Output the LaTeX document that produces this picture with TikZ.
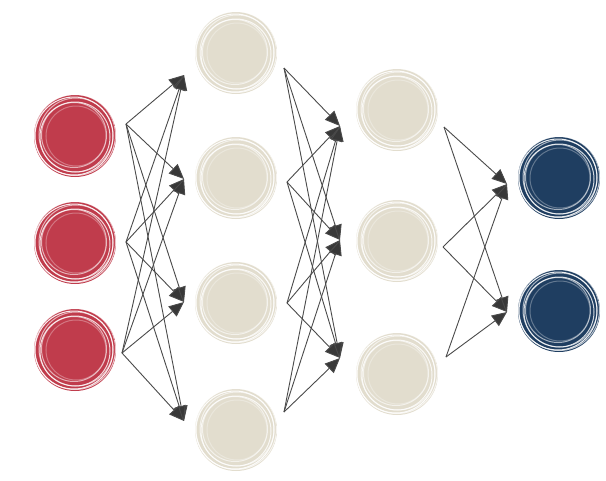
\documentclass[tikz,border=0pt]{standalone}
\usetikzlibrary{arrows.meta}
\definecolor{inred}{HTML}{C03C4C}
\definecolor{hidbeige}{HTML}{E2DDCE}
\definecolor{outblue}{HTML}{1F3E61}
\definecolor{wire}{HTML}{4A4A4A}
\begin{document}
\begin{tikzpicture}[x=1pt,y=-1pt,
  neuron/.style={circle,inner sep=0pt,minimum size=82pt,fill=#1,
    path picture={\foreach \r/\o/\dx/\dy in {30/0.3/1/0,32.5/0.6/-1/1,35/0.8/0/-1,37/0.6/1/1,39/0.9/-1/0,40.5/0.7/0/1}
      \draw[white,opacity=\o,line width=1pt]([shift={(\dx pt,\dy pt)}]path picture bounding box.center)circle(\r pt);}},
  wired/.style={draw=wire,line width=0.9pt,-{Triangle[length=15pt,width=13pt,fill=black!78]}}]
\useasboundingbox(0,0)rectangle(606,480);
%neurons
\foreach \n/\y in {1/136,2/243,3/350}
  \node[neuron=inred](i\n)at(75,\y){};
\foreach \n/\y in {1/53,2/178,3/303,4/430}
  \node[neuron=hidbeige](h\n)at(236,\y){};
\foreach \n/\y in {1/110,2/241,3/374}
  \node[neuron=hidbeige](k\n)at(397,\y){};
\foreach \n/\y in {1/178,2/311}
  \node[neuron=outblue](o\n)at(559,\y){};
%wire ends
\coordinate(a1)at(126,124);\coordinate(a2)at(126,242);\coordinate(a3)at(122,353);
\coordinate(b1)at(184,75);\coordinate(b2)at(184,179);\coordinate(b3)at(184,302);\coordinate(b4)at(184,421);
\coordinate(c1)at(284,68);\coordinate(c2)at(287,182);\coordinate(c3)at(287,303);\coordinate(c4)at(284,412);
\coordinate(d1)at(340,126);\coordinate(d2)at(340,240);\coordinate(d3)at(340,358);
\coordinate(e1)at(444,127);\coordinate(e2)at(443,247);\coordinate(e3)at(446,357);
\coordinate(f1)at(507,184);\coordinate(f2)at(507,312);
%wires
\foreach \s in {1,2,3}\foreach \t in {1,...,4}\draw[wired](a\s)--(b\t);
\foreach \s in {1,...,4}\foreach \t in {1,2,3}\draw[wired](c\s)--(d\t);
\foreach \s in {1,2,3}\foreach \t in {1,2}\draw[wired](e\s)--(f\t);
\end{tikzpicture}
\end{document}
